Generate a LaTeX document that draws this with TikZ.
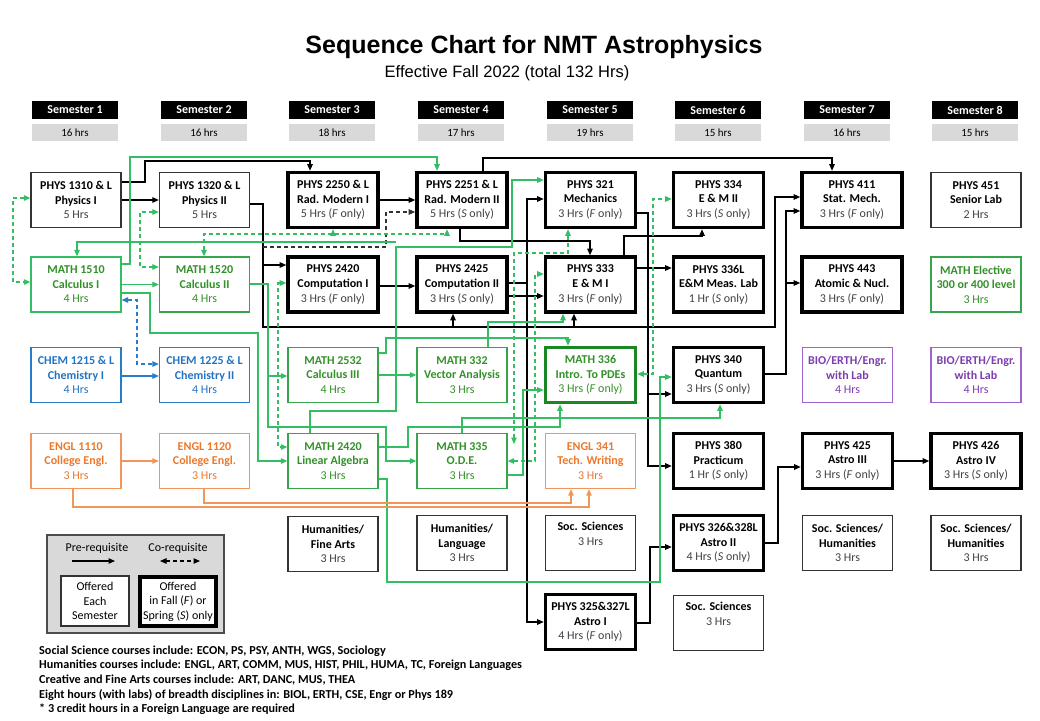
\documentclass[tikz,border=0pt]{standalone}
\usepackage{fontspec}
\setmainfont{Carlito}
\newfontfamily\arialfont{Liberation Sans}
\usetikzlibrary{arrows.meta}
\definecolor{gline}{RGB}{52,190,100}
\definecolor{gbox}{RGB}{55,165,75}
\definecolor{gtext}{RGB}{50,145,40}
\definecolor{gdark}{RGB}{25,135,35}
\definecolor{bline}{RGB}{40,125,200}
\definecolor{btext}{RGB}{35,115,195}
\definecolor{oline}{RGB}{240,150,90}
\definecolor{otext}{RGB}{235,120,45}
\definecolor{pline}{RGB}{160,100,210}
\definecolor{ptext}{RGB}{125,60,175}
\definecolor{hrsgray}{RGB}{64,64,72}
\definecolor{hdrgray}{RGB}{217,217,217}
\newcommand\pc[3]{\textbf{#1}\\\textbf{#2}\\{\color{hrsgray}#3}}
\newcommand\cc[3]{\textbf{#1}\\\textbf{#2}\\#3}
\begin{document}
\begin{tikzpicture}[x=1pt,y=-1pt,
  box/.style={draw, minimum width=90pt, minimum height=55pt, inner sep=0pt, align=center, font=\fontsize{12}{14.6}\selectfont},
  plainbox/.style={box, line width=1.3pt, draw=black!80},
  fsbox/.style={box, line width=3.6pt},
  grnbox/.style={box, line width=1.3pt, draw=gbox, text=gtext},
  bluebox/.style={box, line width=1.3pt, draw=bline, text=btext},
  orgbox/.style={box, line width=1.3pt, draw=oline, text=otext},
  purbox/.style={box, line width=1.3pt, draw=pline, text=ptext},
  semhdr/.style={fill=black, text=white, minimum width=86pt, minimum height=18pt, inner sep=0pt, font=\bfseries\fontsize{12}{12}\selectfont},
  semhrs/.style={fill=hdrgray, minimum width=86pt, minimum height=17pt, inner sep=0pt, font=\fontsize{11}{12}\selectfont},
  tip/.tip={Triangle[length=6.5pt,width=5.5pt]},
  arr/.style={-tip, line width=1.1pt},
  darr/.style={tip-tip, line width=1.1pt, dash pattern=on 4pt off 3pt},
  garr/.style={arr, draw=gline},
  gdarr/.style={darr, draw=gline},
  barr/.style={arr, draw=bline},
  bdarr/.style={darr, draw=bline},
  oarr/.style={arr, draw=oline},
  foot/.style={anchor=west, inner sep=0pt, font=\bfseries\fontsize{12.2}{13}\selectfont}
]
\useasboundingbox (0,0) rectangle (1040,720);
\fill[white] (0,0) rectangle (1040,720);

% title
\node[font=\arialfont\bfseries\fontsize{25}{28}\selectfont] (title) at (534,47) {Sequence Chart for NMT Astrophysics};
\node[font=\arialfont\fontsize{16.5}{19}\selectfont] (subtitle) at (507,73) {Effective Fall 2022 (total 132 Hrs)};

% semester headers
\foreach \x/\n/\h [count=\i] in {75/1/16,204/2/16,332/3/18,461/4/17,590/5/19,718/6/15,847/7/16,975/8/15}{
  \node[semhdr] (sem\i) at (\x,110) {Semester \n};
  \node[semhrs] (hrs\i) at (\x,132.5) {\h\ hrs};
}

% row 1
\node[plainbox] (p1310) at (76,200) {\pc{PHYS 1310 \& L}{Physics I}{5 Hrs}};
\node[plainbox] (p1320) at (204.5,200) {\pc{PHYS 1320 \& L}{Physics II}{5 Hrs}};
\node[fsbox] (p2250) at (333,200) {\pc{PHYS 2250 \& L}{Rad. Modern I}{5 Hrs (\textit{F} only)}};
\node[fsbox] (p2251) at (462,200) {\pc{PHYS 2251 \& L}{Rad. Modern II}{5 Hrs (\textit{S} only)}};
\node[fsbox] (p321) at (590.5,200) {\pc{PHYS 321}{Mechanics}{3 Hrs (\textit{F} only)}};
\node[fsbox] (p334) at (718.5,200) {\pc{PHYS 334}{E \& M II}{3 Hrs (\textit{S} only)}};
\node[fsbox, minimum width=100pt] (p411) at (852,200) {\pc{PHYS 411}{Stat. Mech.}{3 Hrs (\textit{F} only)}};
\node[plainbox] (p451) at (976,200) {\pc{PHYS 451}{Senior Lab}{2 Hrs}};

% row 2
\node[grnbox, draw=gline] (m1510) at (76,284.5) {\cc{MATH 1510}{Calculus I}{4 Hrs}};
\node[grnbox] (m1520) at (204.5,284.5) {\cc{MATH 1520}{Calculus II}{4 Hrs}};
\node[fsbox] (p2420) at (333,284.5) {\pc{PHYS 2420}{Computation I}{3 Hrs (\textit{F} only)}};
\node[fsbox] (p2425) at (462,284.5) {\pc{PHYS 2425}{Computation II}{3 Hrs (\textit{S} only)}};
\node[fsbox] (p333) at (590.5,284.5) {\pc{PHYS 333}{E \& M I}{3 Hrs (\textit{F} only)}};
\node[fsbox] (p336L) at (718.5,284.5) {\pc{PHYS 336L}{E\&M Meas. Lab}{1 Hr (\textit{S} only)}};
\node[fsbox, minimum width=100pt] (p443) at (852,284.5) {\pc{PHYS 443}{Atomic \& Nucl.}{3 Hrs (\textit{F} only)}};
\node[grnbox] (melec) at (976,284.5) {\cc{MATH Elective}{300 or 400 level}{3 Hrs}};

% row 3
\node[bluebox] (c1215) at (76,375) {\cc{CHEM 1215 \& L}{Chemistry I}{4 Hrs}};
\node[bluebox] (c1225) at (204.5,375) {\cc{CHEM 1225 \& L}{Chemistry II}{4 Hrs}};
\node[grnbox] (m2532) at (333,375) {\cc{MATH 2532}{Calculus III}{4 Hrs}};
\node[grnbox] (m332) at (462,375) {\cc{MATH 332}{Vector Analysis}{3 Hrs}};
\node[grnbox, draw=gdark, line width=3.6pt] (m336) at (590.5,375) {\cc{MATH 336}{Intro. To PDEs}{3 Hrs (\textit{F} only)}};
\node[fsbox] (p340) at (718.5,375) {\pc{PHYS 340}{Quantum}{3 Hrs (\textit{S} only)}};
\node[purbox] (bio1) at (847.5,375) {\cc{BIO/ERTH/Engr.}{with Lab}{4 Hrs}};
\node[purbox] (bio2) at (976,375) {\cc{BIO/ERTH/Engr.}{with Lab}{4 Hrs}};

% row 4
\node[orgbox] (e1110) at (76,461) {\cc{ENGL 1110}{College Engl.}{3 Hrs}};
\node[orgbox] (e1120) at (204.5,461) {\cc{ENGL 1120}{College Engl.}{3 Hrs}};
\node[grnbox] (m2420) at (333,461) {\cc{MATH 2420}{Linear Algebra}{3 Hrs}};
\node[grnbox] (m335) at (462,461) {\cc{MATH 335}{O.D.E.}{3 Hrs}};
\node[orgbox] (e341) at (590.5,461) {\cc{ENGL 341}{Tech. Writing}{3 Hrs}};
\node[fsbox] (p380) at (718.5,461) {\pc{PHYS 380}{Practicum}{1 Hr (\textit{S} only)}};
\node[fsbox] (p425) at (847.5,461) {\pc{PHYS 425}{Astro III}{3 Hrs (\textit{F} only)}};
\node[fsbox] (p426) at (976,461) {\pc{PHYS 426}{Astro IV}{3 Hrs (\textit{S} only)}};

% row 5
\node[plainbox] (hfa) at (333,544) {\pc{Humanities/}{Fine Arts}{3 Hrs}};
\node[plainbox] (hlang) at (462,543) {\pc{Humanities/}{Language}{3 Hrs}};
\node[plainbox] (soc1) at (590.5,543) {\textbf{Soc. Sciences}\\{\color{hrsgray}3 Hrs}\\\strut};
\node[fsbox] (p326) at (718.5,543) {\pc{PHYS 326\&328L}{Astro II}{4 Hrs (\textit{S} only)}};
\node[plainbox] (soch1) at (847.5,543) {\pc{Soc. Sciences/}{Humanities}{3 Hrs}};
\node[plainbox] (soch2) at (976,543) {\pc{Soc. Sciences/}{Humanities}{3 Hrs}};

% row 6
\node[fsbox] (p325) at (590.5,622) {\pc{PHYS 325\&327L}{Astro I}{4 Hrs (\textit{F} only)}};
\node[plainbox] (soc2) at (718.5,623) {\textbf{Soc. Sciences}\\{\color{hrsgray}3 Hrs}\\\strut};

% legend
\node[draw=black!70, fill=hdrgray, line width=1.3pt, minimum width=177pt, minimum height=98pt, inner sep=0pt] (leg) at (135.5,584) {};
\node[font=\fontsize{12}{14}\selectfont] (lpre) at (97,548) {Pre-requisite};
\node[font=\fontsize{12}{14}\selectfont] (lco) at (178,548) {Co-requisite};
\coordinate (la1) at (72,561); \coordinate (la2) at (115,561);
\coordinate (lc1) at (160,561); \coordinate (lc2) at (200,561);
\draw[arr] (la1) -- (la2);
\draw[darr] (lc1) -- (lc2);
\node[plainbox, fill=white, minimum width=68pt, minimum height=50pt] (lg1) at (95,601) {Offered\\Each\\Semester};
\node[fsbox, fill=white, minimum width=76pt, minimum height=49pt] (lg2) at (178,601.5) {Offered\\in Fall (\textit{F}) or\\Spring (\textit{S}) only};

% footer
\node[foot] (f1) at (39,651) {Social Science courses include: ECON, PS, PSY, ANTH, WGS, Sociology};
\node[foot] (f2) at (39,665.5) {Humanities courses include: ENGL, ART, COMM, MUS, HIST, PHIL, HUMA, TC, Foreign Languages};
\node[foot] (f3) at (39,680) {Creative and Fine Arts courses include: ART, DANC, MUS, THEA};
\node[foot] (f4) at (39,694.5) {Eight hours (with labs) of breadth disciplines in: BIOL, ERTH, CSE, Engr or Phys 189};
\node[foot] (f5) at (39,709) {* 3 credit hours in a Foreign Language are required};

% ---------- black connectors
\draw[arr] (p1310) -- (p1320);
\draw[arr] (p1310.east|-0,182) -- (145,182) -- (145,161) -- (310,161) -- (p2250.north-|310,0);
\draw[arr] (p1320.east|-0,204) -- (263,204) -- (263,265) -- (p2420.west|-0,265);
\coordinate (j1) at (263,265);
\draw[arr] (j1) -- (263,327) -- (453,327) -- (p2425.south-|453,0);
\coordinate (j2) at (453,327);
\draw[arr] (j2) -- (574,327) -- (p333.south-|574,0);
\coordinate (j3) at (574,327);
\draw[arr] (j3) -- (775,327) -- (775,197) -- (p411.west|-0,197);
\draw[arr] (p2250) -- (p2251);
\draw[arr] (p2251.north-|483,0) -- (483,158) -- (832,158) -- (p411.north-|832,0);
\draw[arr] (p2251.south-|460,0) -- (460,241) -- (590,241) -- (p333.north-|590,0);
\draw[arr] (p2420.east|-0,286) -- (p2425.west|-0,286);
\draw[arr] (p2425.east|-0,283) -- (527,283) -- (527,199) -- (p321.west|-0,199);
\coordinate (j4) at (527,283);
\draw[arr] (j4) -- (527,622) -- (p325.west|-0,622);
\draw[arr] (p2425.east|-0,296) -- (p333.west|-0,296);
\draw[arr] (p321.east|-0,213) -- (648,213) -- (648,394) -- (p340.west|-0,394);
\coordinate (j5) at (648,394);
\draw[arr] (j5) -- (648,466) -- (p380.west|-0,466);
\draw[arr] (p333.east|-0,268) -- (p336L.west|-0,268);
\draw[arr] (p333.north-|624,0) -- (624,236) -- (702,236) -- (p334.south-|702,0);
\draw[arr] (p340.east|-0,374) -- (786,374) -- (786,211) -- (p411.west|-0,211);
\coordinate (j6) at (786,283);
\draw[arr] (j6) -- (p443.west|-0,283);
\draw[arr] (p325.east|-0,623) -- (650,623) -- (650,547) -- (p326.west|-0,547);
\draw[arr] (p326.east|-0,543) -- (778,543) -- (778,467) -- (p425.west|-0,467);
\draw[arr] (p425) -- (p426);
\coordinate (j9) at (263,247);
\draw[arr, dash pattern=on 4pt off 3pt, draw=black!80] (j9) -- (386,247) -- (386,212) -- (p2251.west|-0,212);

% ---------- green connectors
\draw[garr] (m1510) -- (m1520);
\draw[garr] (m1510.east|-0,264) -- (130,264) -- (130,157) -- (437,157) -- (p2251.north-|437,0);
\draw[garr] (m1510.east|-0,293) -- (150,293) -- (150,333) -- (258,333) -- (258,461) -- (m2420.west|-0,461);
\draw[garr] (m1520.east|-0,284) -- (268,284) -- (268,376) -- (m2532.west|-0,376);
\coordinate (j7) at (268,376);
\draw[garr] (j7) -- (268,427) -- (386,427) -- (386,461) -- (m335.west|-0,461);
\draw[garr] (m2532) -- (m332);
\draw[garr] (m2532.east|-0,353) -- (386,353) -- (386,338) -- (568,338) -- (m336.north-|568,0);
\draw[garr] (m2420.north-|310,0) -- (310,411) -- (396,411) -- (396,247) -- (512,247) -- (512,180) -- (p321.west|-0,180);
\draw[garr] (m332.north-|488,0) -- (488,322) -- (563,322) -- (p333.south-|563,0);
\draw[garr] (m335.north-|462,0) -- (462,418) -- (720,418) -- (p340.south-|720,0);
\draw[garr] (m2420.east|-0,447) -- (408,447) -- (408,427) -- (560,427) -- (m336.south-|560,0);
\draw[garr] (m335.east|-0,475) -- (523,475) -- (523,390) -- (m336.west|-0,390);
\draw[garr] (m2420.east|-0,479) -- (387,479) -- (387,582) -- (660,582) -- (660,377) -- (p340.west|-0,377);
\coordinate (j10) at (396,242);
\draw[garr] (j10) -- (77,242) -- (m1510.north-|77,0);

% green dashed
\draw[gdarr] (p1310.west|-0,198) -- (13,198) -- (13,282) -- (m1510.west|-0,282);
\draw[gdarr] (p1320.west|-0,212) -- (140,212) -- (140,267) -- (m1520.west|-0,267);
\draw[gdarr] (m1520.north-|204,0) -- (204,234) -- (447,234) -- (p2251.south-|447,0);
\coordinate (j8) at (333,234);
\draw[garr, dash pattern=on 4pt off 3pt] (j8) -- (p2250.south-|333,0);
\draw[gdarr] (p2420.west|-0,283) -- (278,283) -- (278,447) -- (m2420.west|-0,447);
\coordinate (m335tip) at (514,444);
\draw[gdarr] (p321.south-|568,0) -- (568,253) -- (514,253) -- (m335tip);
\draw[gdarr] (m335.east|-0,461) -- (535,461) -- (535,274) -- (p333.west|-0,274);
\draw[gdarr] (m336.east|-0,374) -- (653,374) -- (653,199) -- (p334.west|-0,199);

% blue
\draw[bdarr] (m1510.east|-0,300) -- (137,300) -- (137,364) -- (c1225.west|-0,364);
\draw[barr] (c1215.east|-0,376) -- (c1225.west|-0,376);

% orange
\draw[oarr] (e1110) -- (e1120);
\draw[oarr] (e1110.south-|73,0) -- (73,507) -- (589,507) -- (e341.south-|589,0);
\draw[oarr] (e1120.south-|204,0) -- (204,503) -- (571,503) -- (e341.south-|571,0);
\end{tikzpicture}
\end{document}
